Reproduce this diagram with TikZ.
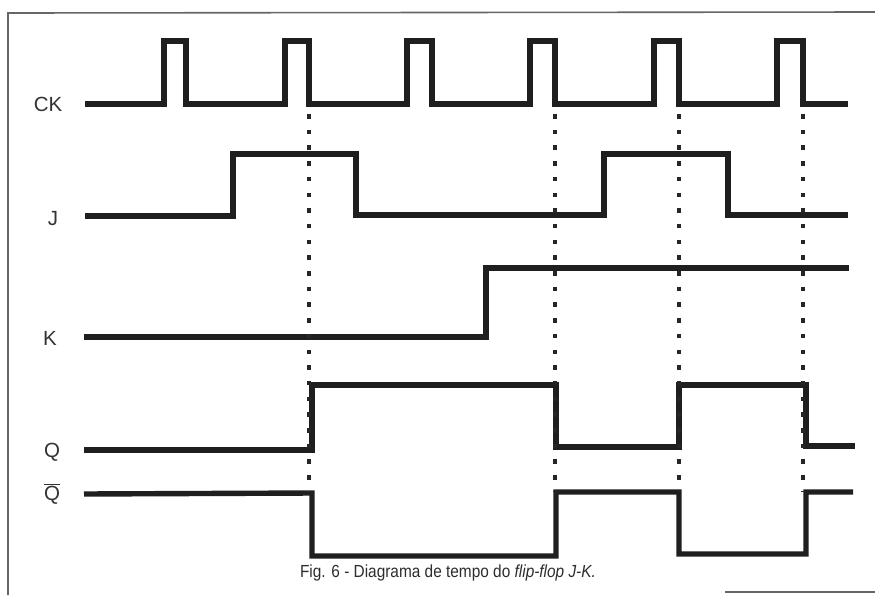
\documentclass[tikz,border=0pt]{standalone}
\usepackage{fontspec}
\usepackage{graphicx}
\setmainfont{Liberation Sans}
\begin{document}
\begin{tikzpicture}[x=1pt,y=-1pt,
  sig/.style={line width=5.4pt, line cap=butt, line join=miter, draw=black!88},
  lbl/.style={font=\fontsize{20.5}{20.5}\selectfont, text=black!80, inner sep=0pt},
  captxt/.style={font=\fontsize{17.5}{17.5}\selectfont, text=black!82, inner sep=0pt},
  guide/.style={line width=3.1pt, dash pattern=on 4.5pt off 11.2pt, draw=black!85},
  frameline/.style={line width=1.6pt, draw=black!60}]
\useasboundingbox (0,0) rectangle (875,595);
\fill[white] (0,0) rectangle (875,595);
% frame
\draw[frameline] (875,12) -- (8,13) -- (8,595);
\draw[frameline] (725,592) -- (875,592);
% labels
\node[lbl] (lck) at (48,104) {CK};
\node[lbl] (lj) at (53,219) {J};
\node[lbl] (lk) at (50,338) {K};
\node[lbl] (lq) at (52,452) {Q};
\node[lbl] (lqb) at (52,494) {$\overline{\hbox{Q}}$};
% CK
\draw[sig] (85,104) -- (164,104) -- (164,41) -- (186,41) -- (186,104)
  -- (285,104) -- (285,41) -- (309,41) -- (309,104)
  -- (407,104) -- (407,41) -- (432,41) -- (432,104)
  -- (530,104) -- (530,41) -- (555,41) -- (555,104)
  -- (654,104) -- (654,41) -- (679,41) -- (679,104)
  -- (777,104) -- (777,41) -- (803,41) -- (803,104) -- (848,104);
% J
\draw[sig] (85,216) -- (233,216) -- (233,154) -- (356,154) -- (356,215)
  -- (604,215) -- (604,154) -- (728,154) -- (728,215) -- (848,215);
% K
\draw[sig] (84,337) -- (486,337) -- (486,268) -- (849,268);
% Q
\draw[sig] (84,450) -- (312,450) -- (312,385) -- (556,385) -- (556,447)
  -- (679,447) -- (679,385) -- (806,385) -- (806,446) -- (855,446);
% Q bar
\draw[sig] (84,494) -- (312,493) -- (312,556) -- (556,556) -- (556,492)
  -- (679,492) -- (679,554) -- (806,554) -- (806,492) -- (853,492);
% guides
\coordinate (g1a) at (309,114); \coordinate (g1b) at (309,492);
\coordinate (g2a) at (555,114); \coordinate (g2b) at (555,492);
\coordinate (g3a) at (679,114); \coordinate (g3b) at (679,492);
\coordinate (g4a) at (803,114); \coordinate (g4b) at (803,492);
\draw[guide] (g1a) -- (g1b);
\draw[guide] (g2a) -- (g2b);
\draw[guide] (g3a) -- (g3b);
\draw[guide] (g4a) -- (g4b);
% caption
\node[captxt] (caption) at (448,573) {\scalebox{0.88}[1]{Fig. 6 - Diagrama de tempo do \textit{flip-flop J-K.}}};
\end{tikzpicture}
\end{document}
